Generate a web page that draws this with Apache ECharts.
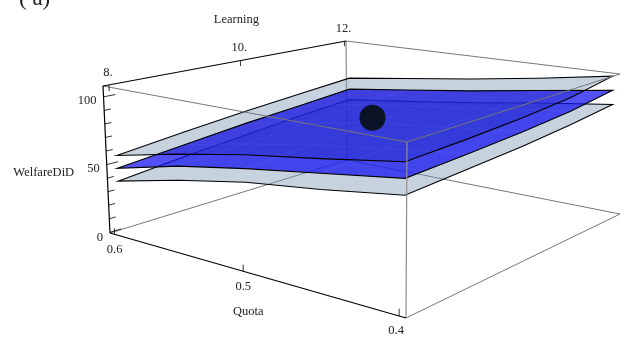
<!DOCTYPE html>
<html><head><meta charset="utf-8">
<style>html,body{margin:0;padding:0;background:#fff}#c{width:620px;height:338px}</style>
<script src="https://cdn.jsdelivr.net/npm/echarts@6/dist/echarts.min.js"></script>
</head><body><div id="c"></div>
<script>
// ---- data ----
const quotaGrid = [0.6, 0.55, 0.5, 0.45, 0.4];
const learningGrid = [8, 9, 10, 11, 12];
const welfareUpper = [
  [56.5, 62, 67, 71, 75],
  [67.5, 72, 76, 80, 82],
  [77.2, 81, 85, 87, 89],
  [85, 88, 91, 93, 97],
  [93.8, 95, 97, 100, 106]
];
const welfareMiddle = [
  [47, 52, 57, 61, 65],
  [59, 62, 66, 70, 72],
  [67.8, 71, 75, 77, 79],
  [75.5, 78.5, 81, 83, 87],
  [83.5, 85, 87, 90, 95]
];
const welfareLower = [
  [37.5, 43, 47.5, 52, 55.5],
  [49, 52, 57, 60, 62],
  [58.5, 62, 65, 67, 69],
  [65, 68.5, 71, 73, 77],
  [73, 75, 77, 80, 84]
];
const markerPoint = [0.495, 9.9, 81];
const welfareTicks = [0, 10, 20, 30, 40, 50, 60, 70, 80, 90, 100];
const welfareTickLabels = { 0: '0', 50: '50', 100: '100' };
const learningTicks = [8, 10, 12];
const learningTickLabels = ['8.', '10.', '12.'];
const quotaTicks = [0.6, 0.5, 0.4];
const quotaTickLabels = ['0.6', '0.5', '0.4'];

// ---- camera: box extents and where the box corners land on the page ----
const QA = 0.604, QB = 0.396, LA = 7.92, LB = 12.03, ZA = -0.5, ZB = 108;
const topQuad = [[103, 86], [346, 41], [620, 74], [407, 142]];
const botQuad = [[110, 233], [347, 160], [620, 214], [406, 318]];
function homography(p) {
  const [x0, y0] = p[0], [x1, y1] = p[1], [x2, y2] = p[2], [x3, y3] = p[3];
  const dx1 = x1 - x2, dx2 = x3 - x2, sx = x0 - x1 + x2 - x3;
  const dy1 = y1 - y2, dy2 = y3 - y2, sy = y0 - y1 + y2 - y3;
  const den = dx1 * dy2 - dx2 * dy1;
  const g = (sx * dy2 - dx2 * sy) / den, h = (dx1 * sy - sx * dy1) / den;
  const a = x1 - x0 + g * x1, b = x3 - x0 + h * x3, d = y1 - y0 + g * y1, e = y3 - y0 + h * y3;
  return (u, v) => {
    const w = g * u + h * v + 1;
    return [(a * u + b * v + x0) / w, (d * u + e * v + y0) / w];
  };
}
const hTop = homography(topQuad), hBot = homography(botQuad);
function project(q, l, z) {
  const u = (l - LA) / (LB - LA), v = (QA - q) / (QA - QB), t = (z - ZA) / (ZB - ZA);
  const a = hTop(u, v), b = hBot(u, v);
  return [b[0] + (a[0] - b[0]) * t, b[1] + (a[1] - b[1]) * t];
}

const FONT = '12.5px "Liberation Serif", serif';
const TXT = '#222';

function seg(api, p, q, stroke, width) {
  const a = api.coord(p), b = api.coord(q);
  return { type: 'line', shape: { x1: a[0], y1: a[1], x2: b[0], y2: b[1] }, style: { stroke, lineWidth: width, fill: null }, silent: true };
}
function label(api, p, dx, dy, text, align) {
  const a = api.coord(p);
  return { type: 'text', style: { x: a[0] + dx, y: a[1] + dy, text, font: FONT, fill: TXT, textAlign: align || 'center', textVerticalAlign: 'middle' }, silent: true };
}
function surfacePath(api, grid) {
  const n = quotaGrid.length, m = learningGrid.length, pts = [];
  for (let j = 0; j < m; j++) pts.push(project(quotaGrid[0], learningGrid[j], grid[0][j]));
  for (let i = 1; i < n; i++) pts.push(project(quotaGrid[i], learningGrid[m - 1], grid[i][m - 1]));
  for (let j = m - 2; j >= 0; j--) pts.push(project(quotaGrid[n - 1], learningGrid[j], grid[n - 1][j]));
  for (let i = n - 2; i > 0; i--) pts.push(project(quotaGrid[i], learningGrid[0], grid[i][0]));
  return pts.map(p => api.coord(p));
}
function surfaceMesh(api, grid, stroke) {
  const out = [];
  const n = quotaGrid.length, m = learningGrid.length;
  for (let i = 1; i < n - 1; i++) for (let j = 0; j < m - 1; j++)
    out.push(seg(api, project(quotaGrid[i], learningGrid[j], grid[i][j]), project(quotaGrid[i], learningGrid[j + 1], grid[i][j + 1]), stroke, 0.6));
  for (let j = 1; j < m - 1; j++) for (let i = 0; i < n - 1; i++)
    out.push(seg(api, project(quotaGrid[i], learningGrid[j], grid[i][j]), project(quotaGrid[i + 1], learningGrid[j], grid[i + 1][j]), stroke, 0.6));
  return out;
}
const SURF_GREY = 'rgba(130,155,185,0.45)';
function greyFill(grid) {
  return (params, api) => params.dataIndex !== 0 ? null :
    { type: 'polygon', shape: { points: surfacePath(api, grid) }, style: { fill: SURF_GREY, stroke: null }, silent: true };
}
function outline(grid) {
  return (params, api) => params.dataIndex !== 0 ? null :
    { type: 'polygon', shape: { points: surfacePath(api, grid) }, style: { fill: null, stroke: '#000', lineWidth: 1.1 }, silent: true };
}
function blueLayer(grid) {
  return (params, api) => {
    if (params.dataIndex !== 0) return null;
    const pts = surfacePath(api, grid);
    return { type: 'group', children: [
      { type: 'polygon', shape: { points: pts }, style: { fill: 'rgba(20,20,240,0.74)', stroke: null }, silent: true },
      ...surfaceMesh(api, grid, 'rgba(255,255,255,0.09)')
    ] };
  };
}
function overlapShade(shadeGrid, clipGrid) {
  return (params, api) => params.dataIndex !== 0 ? null : {
    type: 'polygon',
    shape: { points: surfacePath(api, shadeGrid) },
    style: { fill: 'rgba(0,0,60,0.07)', stroke: null },
    clipPath: { type: 'polygon', shape: { points: surfacePath(api, clipGrid) } },
    silent: true
  };
}
const GREY = '#777', LGREY = '#8f8f8f';
function wrapSeg(api, a, b, c, w) { return seg(api, project(...a), project(...b), c, w); }
function renderBoxBack(params, api) {
  if (params.dataIndex !== 0) return null;
  return { type: 'group', children: [
    wrapSeg(api, [QA, LB, ZB], [QA, LB, ZA], GREY, 1),
    wrapSeg(api, [QA, LA, ZA], [QA, LB, ZA], GREY, 1),
    wrapSeg(api, [QA, LB, ZA], [QB, LB, ZA], GREY, 1),
    wrapSeg(api, [QA, LB, ZB], [QB, LB, ZB], GREY, 1),
    wrapSeg(api, [QB, LA, ZA], [QB, LB, ZA], GREY, 1)
  ] };
}
function renderMarker(params, api) {
  if (params.dataIndex !== 0) return null;
  const c = api.coord(project(markerPoint[0], markerPoint[1], markerPoint[2]));
  return { type: 'circle', shape: { cx: c[0], cy: c[1], r: 13 }, style: { fill: '#0a1426' }, silent: true };
}
function renderBoxFront(params, api) {
  if (params.dataIndex !== 0) return null;
  const kids = [
    wrapSeg(api, [QA, LA, ZB], [QB, LA, ZB], GREY, 1),
    wrapSeg(api, [QB, LA, ZB], [QB, LB, ZB], GREY, 1),
    wrapSeg(api, [QB, LA, ZB], [QB, LA, ZA], LGREY, 1.2),
    wrapSeg(api, [QA, LA, ZB], [QA, LB, ZB], '#000', 1.2),
    wrapSeg(api, [QA, LA, ZB], [QA, LA, ZA], '#000', 1.2),
    wrapSeg(api, [QA, LA, ZA], [QB, LA, ZA], '#000', 1.2)
  ];
  welfareTicks.forEach(z => {
    const major = welfareTickLabels[z] !== undefined;
    kids.push(wrapSeg(api, [QA, LA, z], [QA, LA + (major ? 0.16 : 0.09), z], '#000', 0.8));
    if (major) kids.push(label(api, project(QA, LA, z), -7, z === 0 ? 5 : 4, welfareTickLabels[z], 'right'));
  });
  learningTicks.forEach((l, i) => {
    kids.push(wrapSeg(api, [QA, l, ZB], [QA, l, ZB - 4.5], '#000', 0.8));
    kids.push(label(api, project(QA, l, ZB), -1, -12.5, learningTickLabels[i]));
  });
  quotaTicks.forEach((q, i) => {
    kids.push(wrapSeg(api, [q, LA, ZA], [q, LA, ZA + 4.5], '#000', 0.8));
    kids.push(label(api, project(q, LA, ZA), i === 2 ? -3 : 0, 15, quotaTickLabels[i]));
  });
  kids.push(label(api, project(QA, 10, ZB), -4, -41, 'Learning'));
  kids.push(label(api, project(0.5, LA, ZA), 5, 40, 'Quota'));
  kids.push(label(api, project(QA, LA, 50), -63, 8, 'WelfareDiD'));
  return { type: 'group', children: kids };
}
const anchor = [[0, 0]];
function layer(renderItem) {
  return { type: 'custom', coordinateSystem: 'cartesian2d', data: anchor, renderItem, clip: true, animation: false, silent: true };
}
const chart = echarts.init(document.getElementById('c'), null, { renderer: 'canvas' });
chart.setOption({
  animation: false,
  backgroundColor: '#fff',
  title: { text: '( a)', left: 14, top: -18, textStyle: { fontFamily: '"Liberation Serif", serif', fontSize: 23, fontWeight: 'normal', color: '#222' } },
  grid: { left: 0, right: 0, top: 0, bottom: 0 },
  xAxis: { type: 'value', min: 0, max: 620, show: false },
  yAxis: { type: 'value', min: 0, max: 338, inverse: true, show: false },
  series: [
    layer(renderBoxBack),
    layer(greyFill(welfareLower)),
    layer(outline(welfareLower)),
    layer(greyFill(welfareUpper)),
    layer(blueLayer(welfareMiddle)),
    layer(overlapShade(welfareUpper, welfareMiddle)),
    layer(outline(welfareMiddle)),
    layer(outline(welfareUpper)),
    layer(renderMarker),
    layer(renderBoxFront)
  ]
});
</script></body></html>
